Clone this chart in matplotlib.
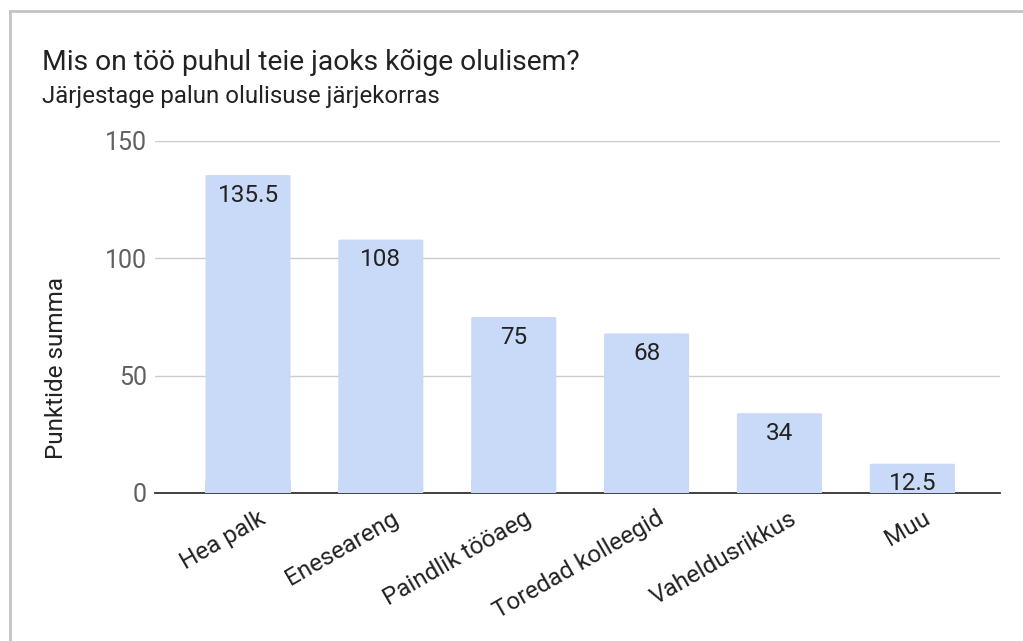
import matplotlib.pyplot as plt
import matplotlib.transforms as mtransforms
from matplotlib.lines import Line2D
from matplotlib.patches import FancyBboxPatch

categories = ["Hea palk", "Eneseareng", "Paindlik tööaeg", "Toredad kolleegid", "Vaheldusrikkus", "Muu"]
values = [135.5, 108, 75, 68, 34, 12.5]
value_labels = ["135.5", "108", "75", "68", "34", "12.5"]
yticks = [0, 50, 100, 150]

plt.rcParams['font.family'] = ['Roboto', 'DejaVu Sans']

fig = plt.figure(figsize=(10.23, 6.41), dpi=100)
# plot area in pixels: x 155..1000, y 141 (150) .. 493 (0)
W, H = 1023, 641
ax = fig.add_axes([155 / W, 1 - 493 / H, 845 / W, (493 - 141) / H])

bar_color = '#c9daf8'
width = 0.64
xs = list(range(len(categories)))
for x, v in zip(xs, values):
    p = FancyBboxPatch((x - width / 2, 0), width, v,
                       boxstyle="round,pad=0,rounding_size=0.03",
                       mutation_aspect=6, facecolor=bar_color, edgecolor='none', zorder=2)
    ax.add_patch(p)
    # square off the bottom
    ax.bar(x, min(v, 5), width=width, color=bar_color, zorder=2)

for x, v, lab in zip(xs, values, value_labels):
    ax.annotate(lab, (x, v), xytext=(0, -14.5), textcoords='offset points',
                ha='center', va='center', fontsize=17.5, color='#222222', zorder=3)

ax.set_xlim(-0.7, 5.66)
ax.set_ylim(0, 150)
ax.set_yticks(yticks)
ax.set_yticklabels([str(t) for t in yticks], fontsize=18, color='#616161')
ax.tick_params(axis='y', length=0, pad=6)
ax.grid(axis='y', color='#cccccc', linewidth=1, zorder=0)
ax.set_axisbelow(True)
for s in ['top', 'right', 'left']:
    ax.spines[s].set_visible(False)
ax.spines['bottom'].set_color('#333333')
ax.spines['bottom'].set_linewidth(1.3)
ax.spines['bottom'].set_zorder(1)

ax.set_xticks(xs)
ax.set_xticklabels(categories, rotation=30, ha='right', rotation_mode='anchor',
                   fontsize=17.5, color='#222222')
ax.tick_params(axis='x', length=0, pad=10)
offset = mtransforms.ScaledTranslation(10 / 100, 0, fig.dpi_scale_trans)
for lbl in ax.get_xticklabels():
    lbl.set_transform(lbl.get_transform() + offset)

fig.text(42 / W, 1 - 62 / H, "Mis on töö puhul teie jaoks kõige olulisem?",
         fontsize=20.3, color='#222222', ha='left', va='center')
fig.text(42 / W, 1 - 96 / H, "Järjestage palun olulisuse järjekorras",
         fontsize=17.3, color='#222222', ha='left', va='center')
fig.text(57 / W, 1 - 368 / H, "Punktide summa", rotation=90,
         fontsize=17.5, color='#222222', ha='center', va='center')

# frame lines of the screenshot
fig.add_artist(Line2D([10 / W, 1], [1 - 11 / H, 1 - 11 / H], color='#c4c4c4', linewidth=2))
fig.add_artist(Line2D([10 / W, 10 / W], [0, 1 - 11 / H], color='#c4c4c4', linewidth=2))

fig.savefig('out.png', dpi=100)
